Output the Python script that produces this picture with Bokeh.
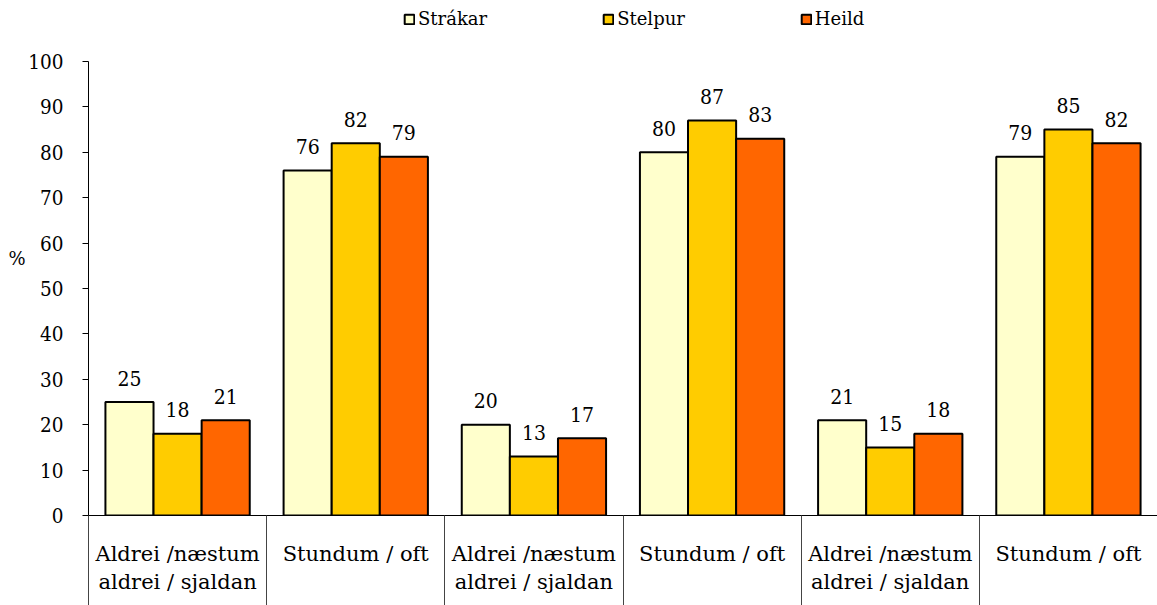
from bokeh.plotting import figure
from bokeh.models import (ColumnDataSource, Range1d, FixedTicker, Legend, LegendItem, LinearAxis)
from bokeh.transform import dodge
from bokeh.core.properties import value
from bokeh.embed import file_html
from bokeh.resources import INLINE

categories = ["Aldrei /næstum\naldrei / sjaldan", "Stundum / oft",
              "Aldrei /næstum\naldrei / sjaldan", "Stundum / oft",
              "Aldrei /næstum\naldrei / sjaldan", "Stundum / oft"]
series = ["Strákar", "Stelpur", "Heild"]
strakar = [25, 76, 20, 80, 21, 79]
stelpur = [18, 82, 13, 87, 15, 85]
heild = [21, 79, 17, 83, 18, 82]
colors = ["#FFFFCC", "#FFCC00", "#FF6600"]
y_ticks = list(range(0, 101, 10))

FONT = "DejaVu Serif"
NFONT = "DejaVu Serif Condensed"
centers = [i + 0.5 for i in range(len(categories))]
src = ColumnDataSource(dict(x=centers, s0=strakar, s1=stelpur, s2=heild,
                            t0=[str(v) for v in strakar],
                            t1=[str(v) for v in stelpur],
                            t2=[str(v) for v in heild]))

p = figure(width=1157, height=605, output_backend="svg", toolbar_location=None,
           x_range=Range1d(0, len(categories)), y_range=Range1d(0, 113.44),
           min_border_left=88, min_border_right=0, min_border_top=0, min_border_bottom=90)
p.outline_line_color = None
p.xgrid.visible = False
p.ygrid.visible = False
p.background_fill_color = "white"

bw = 0.27
offsets = [-bw, 0, bw]
renderers = []
for i, name in enumerate(series):
    r = p.vbar(x=dodge("x", offsets[i], range=p.x_range), top="s%d" % i, width=bw,
               source=src, fill_color=colors[i], line_color="black", line_width=2)
    renderers.append(r)
    p.text(x=dodge("x", offsets[i], range=p.x_range), y="s%d" % i, text="t%d" % i,
           source=src, text_align="center", text_baseline="alphabetic", y_offset=-24,
           text_font=value(NFONT), text_font_size="21px", text_color="black")

# y axis
ya = p.yaxis[0]
ya.bounds = (0, 100)
ya.ticker = FixedTicker(ticks=y_ticks, minor_ticks=[])
ya.major_tick_out = 6
ya.major_tick_in = 0
ya.major_label_standoff = 19
ya.major_label_text_font = NFONT
ya.major_label_text_font_size = "20.5px"
ya.major_label_text_color = "black"
ya.axis_line_color = "black"
ya.major_tick_line_color = "black"

# "%" label via an auxiliary axis centred at the label height
pa = LinearAxis(bounds=(15.4, 100), ticker=FixedTicker(ticks=[], minor_ticks=[]),
                axis_line_color=None, major_tick_line_color=None, minor_tick_line_color=None,
                major_tick_out=0, major_tick_in=0, minor_tick_out=0, minor_tick_in=0,
                axis_label="%", axis_label_orientation="horizontal", axis_label_standoff=0,
                axis_label_text_font=FONT, axis_label_text_font_style="normal",
                axis_label_text_font_size="18px", axis_label_text_color="black")
p.add_layout(pa, "left")

# x axis
xa = p.xaxis[0]
xa.ticker = FixedTicker(ticks=centers, minor_ticks=list(range(len(categories) + 1)))
xa.major_label_overrides = {c: lab for c, lab in zip(centers, categories)}
xa.major_tick_line_color = None
xa.major_tick_out = 0
xa.major_tick_in = 0
xa.minor_tick_in = 0
xa.minor_tick_out = 90
xa.minor_tick_line_color = "#444444"
xa.major_label_standoff = 26 - 90
xa.major_label_text_font = FONT
xa.major_label_text_font_size = "21px"
xa.major_label_text_color = "black"
xa.axis_line_color = "black"

legend = Legend(items=[LegendItem(label=n, renderers=[r]) for n, r in zip(series, renderers)],
                orientation="horizontal", location=(315, 486), padding=0, margin=0,
                spacing=115, glyph_width=12, glyph_height=12, label_standoff=3,
                label_text_font=FONT, label_text_font_size="18px", label_text_color="black",
                border_line_color=None, background_fill_alpha=0)
p.add_layout(legend, "center")

open("out.html", "w").write(file_html(p, INLINE))
